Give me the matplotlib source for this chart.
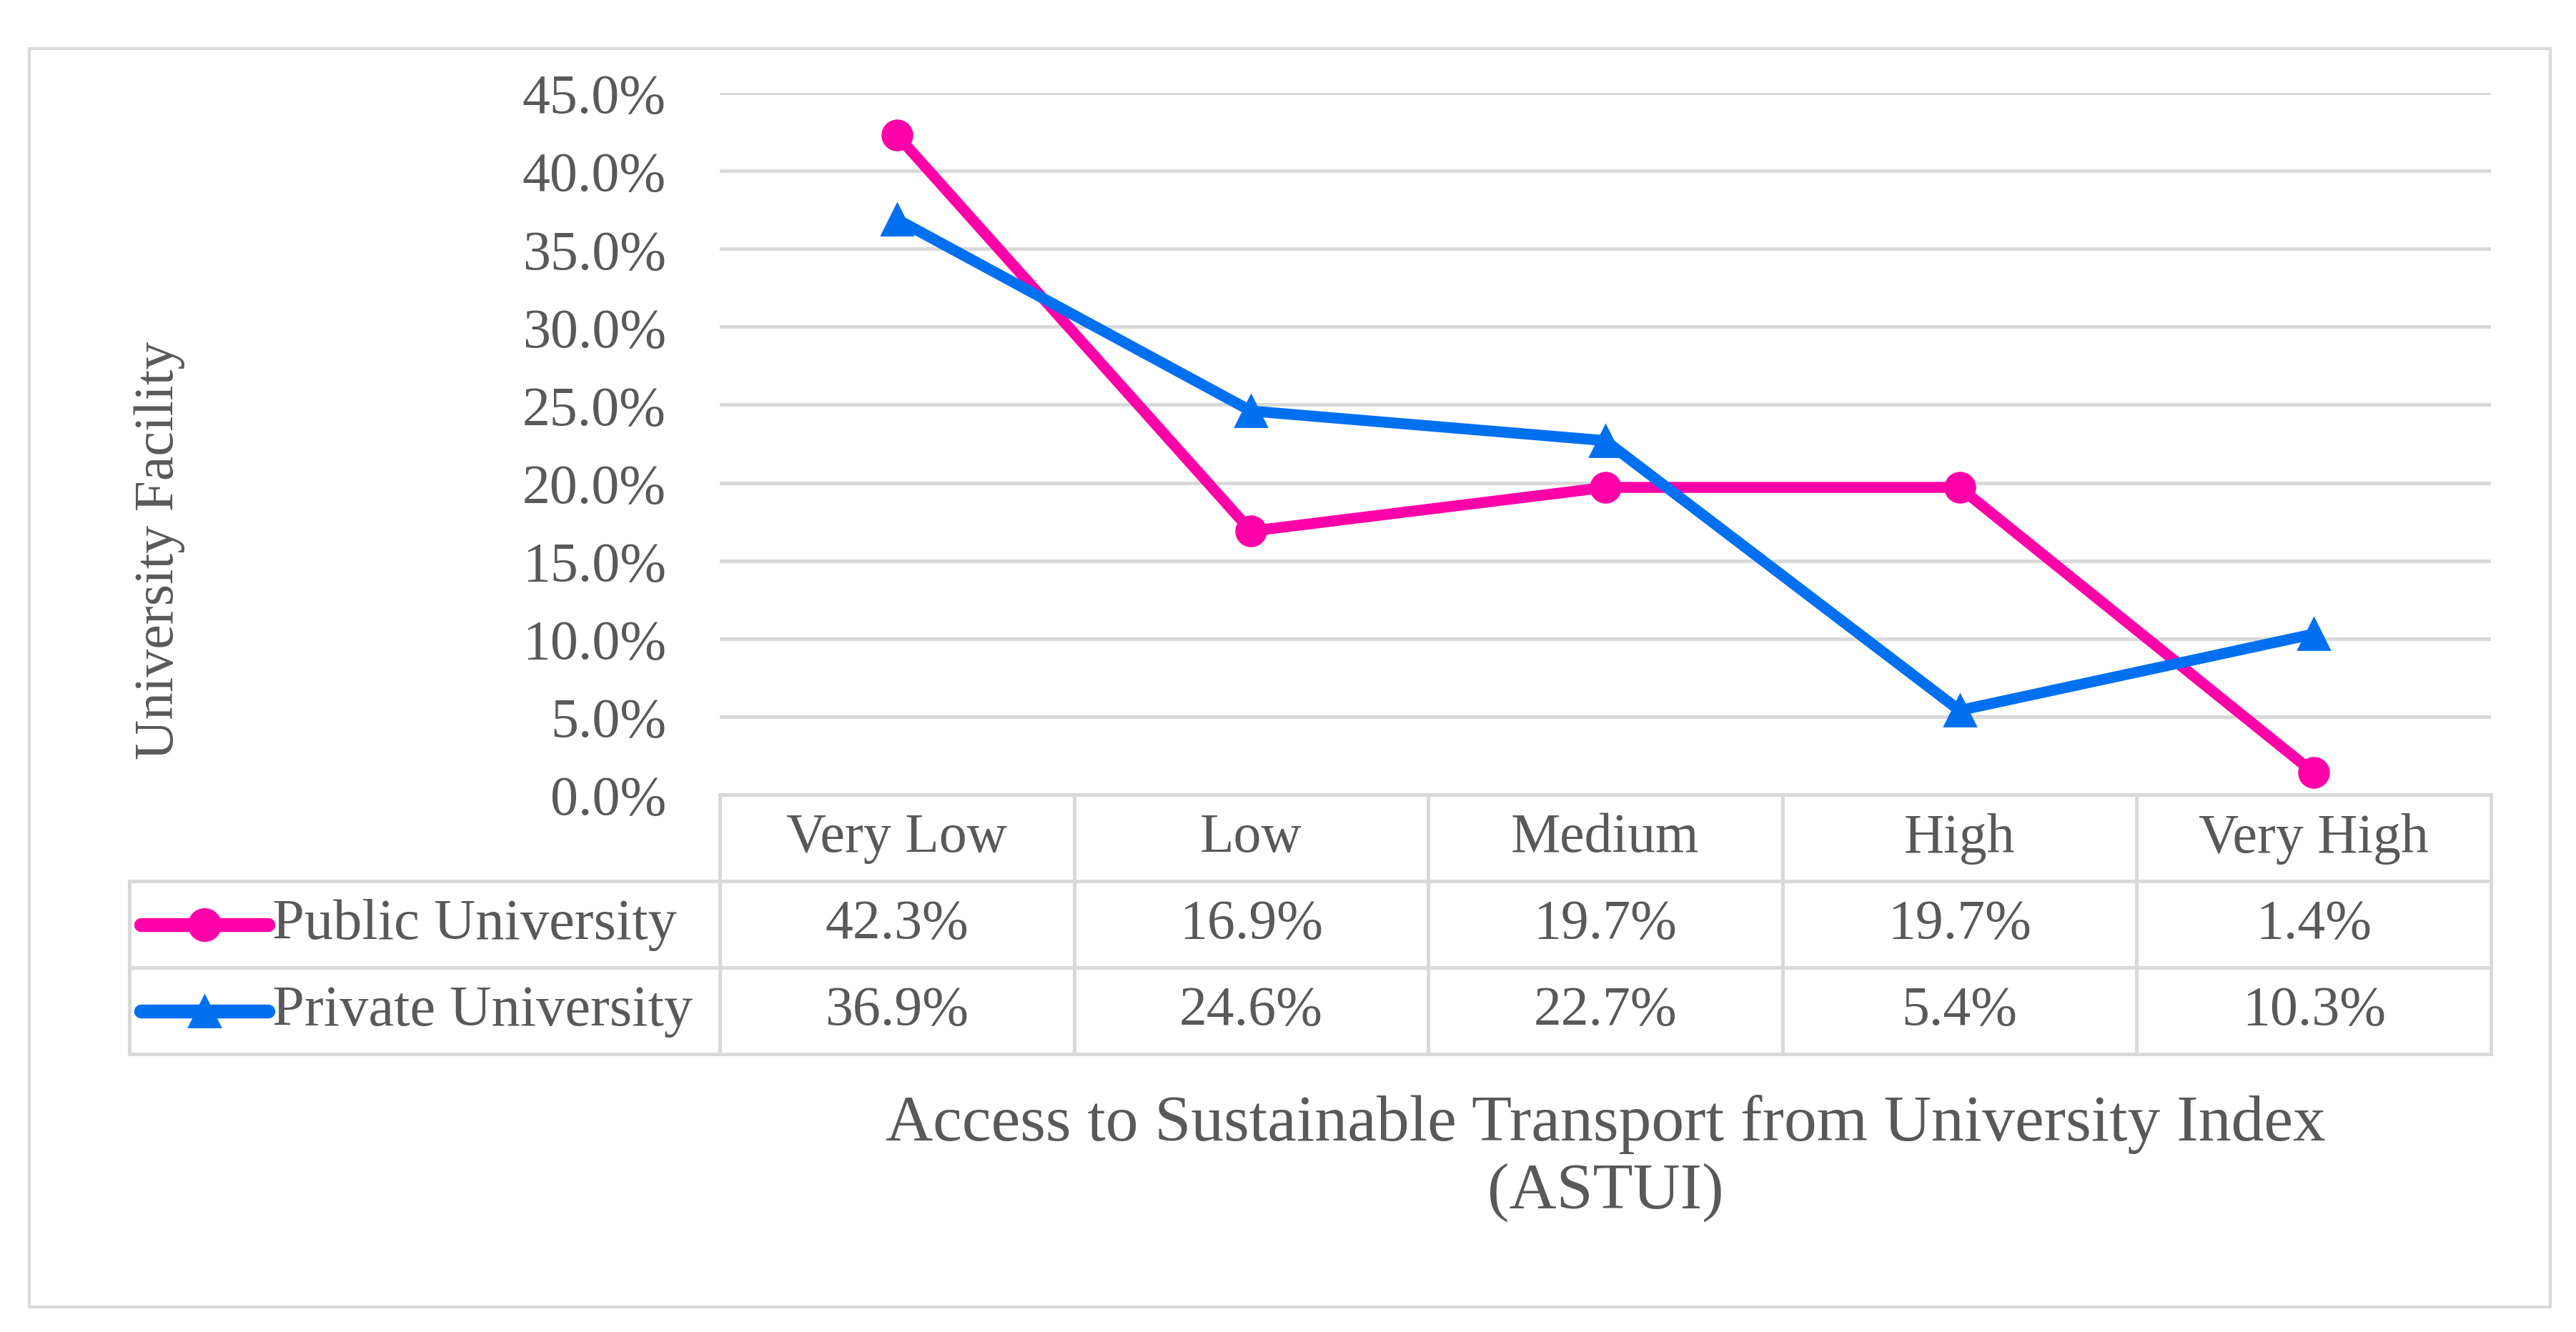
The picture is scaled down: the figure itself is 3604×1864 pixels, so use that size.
"""
Public vs private university facility share across ASTUI levels,
line chart with an Excel-style data table underneath.
"""

import matplotlib.pyplot as plt
from matplotlib.table import Table
from matplotlib.lines import Line2D
from matplotlib.patches import Rectangle

categories = ["Very Low", "Low", "Medium", "High", "Very High"]
public_pct = [42.3, 16.9, 19.7, 19.7, 1.4]
private_pct = [36.9, 24.6, 22.7, 5.4, 10.3]
series_names = ["Public University", "Private University"]
y_ticks = [0, 5, 10, 15, 20, 25, 30, 35, 40, 45]

PINK = "#FF00A8"
BLUE = "#0070F0"
TEXT = "#595959"
GRID = "#D9D9D9"

W, H, DPI = 3605, 1865, 200
plt.rcParams["font.family"] = ["Liberation Serif", "DejaVu Serif"]


def fx(px):
    return px / W


def fy(py):
    return 1 - py / H


fig = plt.figure(figsize=(W / DPI, H / DPI), dpi=DPI)

# plot area in pixel terms of the reference
ax_l, ax_r, ax_t, ax_b = 1007, 3485, 131, 1113
ax = fig.add_axes([fx(ax_l), fy(ax_b), fx(ax_r) - fx(ax_l), fy(ax_t) - fy(ax_b)])

xs = list(range(len(categories)))
ax.plot(xs, public_pct, color=PINK, lw=5.5, marker="o", ms=15,
        clip_on=False, zorder=3)
ax.plot(xs, private_pct, color=BLUE, lw=5.5, marker="^", ms=16,
        clip_on=False, zorder=4)

ax.set_xlim(-0.5, len(categories) - 0.5)
ax.set_ylim(0, 45)
ax.set_yticks(y_ticks)
ax.set_yticklabels([f"{v:.1f}%" for v in y_ticks])
ax.set_xticks([])
ax.yaxis.grid(True, color=GRID, lw=1.8)
ax.set_axisbelow(True)
for s in ax.spines.values():
    s.set_visible(False)
ax.tick_params(axis="y", length=0, pad=27, labelsize=28, labelcolor=TEXT)

# data table below the plot, legend column sticking out to the left
tab_left = 181
tab_bottom = 1476
bx0 = (tab_left - ax_l) / (ax_r - ax_l)
by0 = -(tab_bottom - ax_b) / (ax_b - ax_t)
table = Table(ax, bbox=[bx0, by0, 1 - bx0, -by0])
col_w = (ax_r - ax_l) / len(categories)
lab_w = ax_l - tab_left

for c, cat in enumerate(categories):
    table.add_cell(0, c + 1, width=col_w, height=1, text=cat, loc="center")
for r, (name, vals) in enumerate(zip(series_names, [public_pct, private_pct])):
    cell = table.add_cell(r + 1, 0, width=lab_w, height=1, text=name, loc="left")
    cell.PAD = (381 - tab_left) / lab_w
    for c, v in enumerate(vals):
        table.add_cell(r + 1, c + 1, width=col_w, height=1,
                       text=f"{v:.1f}%", loc="center")

table.auto_set_font_size(False)
table.set_fontsize(28)
for (r, c), cell in table.get_celld().items():
    cell.set_edgecolor(GRID)
    cell.set_linewidth(1.8)
    cell.set_facecolor("none")
    cell.get_text().set_color(TEXT)
    if c == 0:
        cell.get_text().set_fontsize(29)
ax.add_table(table)

# legend keys inside the table's first column
row_h = -by0 / 3
key_x0 = (197 - ax_l) / (ax_r - ax_l)
key_x1 = (375 - ax_l) / (ax_r - ax_l)
for r, (color, mk) in enumerate([(PINK, "o"), (BLUE, "^")]):
    yc = -row_h * (r + 1.5)
    ax.add_line(Line2D([key_x0, key_x1], [yc, yc], transform=ax.transAxes,
                       color=color, lw=7, solid_capstyle="round", clip_on=False))
    ax.add_line(Line2D([(key_x0 + key_x1) / 2], [yc], transform=ax.transAxes,
                       color=color, marker=mk, ms=16, lw=0, clip_on=False))

fig.text(fx(223), fy(770), "University Facility", rotation=90,
         ha="center", va="center", fontsize=28, color=TEXT)
fig.text(fx((ax_l + ax_r) / 2), fy(1621),
         "Access to Sustainable Transport from University Index\n(ASTUI)",
         ha="center", va="center", multialignment="center",
         fontsize=33, color=TEXT, linespacing=1.18)

fig.add_artist(Rectangle((fx(41), fy(1830)), fx(3568) - fx(41), fy(69) - fy(1830),
                         transform=fig.transFigure, fill=False,
                         edgecolor=GRID, lw=1.5))

fig.savefig("out.png", dpi=DPI)
